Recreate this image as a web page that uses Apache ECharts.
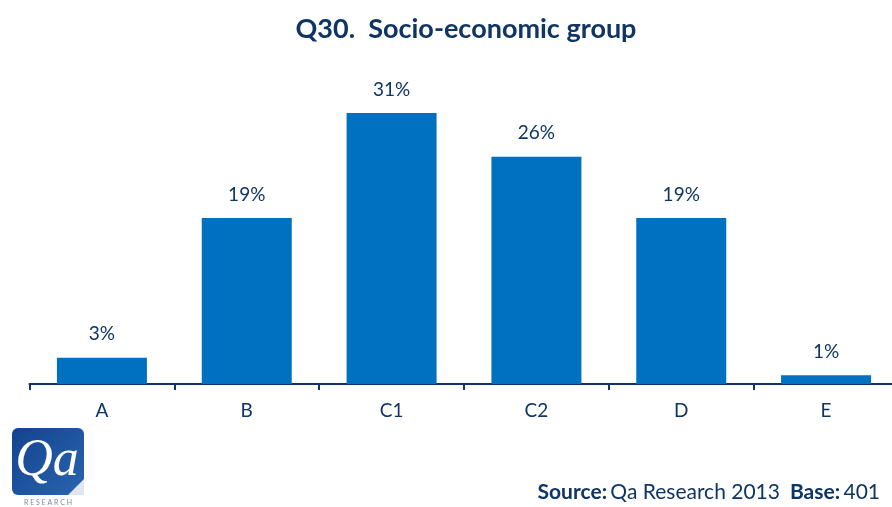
<!DOCTYPE html>
<html>
<head>
<meta charset="utf-8">
<script src="https://cdn.jsdelivr.net/npm/echarts@6/dist/echarts.min.js"></script>
<style>
  html, body { margin: 0; padding: 0; background: #ffffff; }
  #chart { width: 892px; height: 507px; }
</style>
</head>
<body>
<div id="chart"></div>
<script>
// Socio-economic group shares (percent of respondents)
const categories = ['A', 'B', 'C1', 'C2', 'D', 'E'];
const shares = [3, 19, 31, 26, 19, 1];

const navy = '#0f3466';
const barBlue = '#0070c0';
const fontFamily = 'Lato, "Open Sans", sans-serif';

const chart = echarts.init(document.getElementById('chart'));
chart.setOption({
  animation: false,
  backgroundColor: '#ffffff',
  title: {
    text: 'Q30.  Socio-economic group',
    left: 461,
    textAlign: 'center',
    top: 11,
    textStyle: { color: navy, fontSize: 27, fontWeight: 'bold', fontFamily }
  },
  grid: {
    left: 29.5, width: 869, top: 78, height: 306,
    containLabel: false,
    outerBoundsMode: 'none'
  },
  xAxis: {
    type: 'category',
    data: categories,
    axisLine: { lineStyle: { color: navy, width: 2 } },
    axisTick: { show: true, length: 6, lineStyle: { color: navy, width: 2 } },
    axisLabel: { color: navy, fontSize: 19, fontFamily, margin: 17 }
  },
  yAxis: {
    type: 'value',
    min: 0,
    max: 35,
    show: false,
    splitLine: { show: false }
  },
  series: [{
    type: 'bar',
    data: shares,
    barWidth: 90,
    itemStyle: { color: barBlue },
    label: {
      show: true,
      position: 'top',
      distance: 14,
      formatter: p => p.value + '%',
      color: navy,
      fontSize: 19,
      fontFamily
    }
  }],
  graphic: [
    // company mark
    {
      type: 'rect',
      shape: { x: 12, y: 428, width: 72, height: 67, r: 6 },
      style: {
        fill: new echarts.graphic.LinearGradient(0, 0, 1, 1, [
          { offset: 0, color: '#13438e' },
          { offset: 1, color: '#2a64b0' }
        ])
      }
    },
    {
      type: 'polygon',
      shape: { points: [[68, 495], [84, 479], [84, 495]] },
      style: { fill: '#dfe6f0' }
    },
    {
      type: 'text',
      style: {
        x: 47, y: 461, text: 'Qa', textAlign: 'center', textVerticalAlign: 'middle',
        fill: '#ffffff', fontSize: 52, fontStyle: 'italic', fontFamily: '"Liberation Serif", serif'
      }
    },
    {
      type: 'text',
      style: {
        x: 48, y: 503, text: 'R E S E A R C H', textAlign: 'center', textVerticalAlign: 'middle',
        fill: '#7a8aa6', fontSize: 7, fontFamily
      }
    },
    // source footnote
    {
      type: 'text',
      style: {
        x: 880, y: 492, textAlign: 'right', textVerticalAlign: 'middle',
        text: '{b|Source:} {r|Qa Research 2013}   {b|Base:} {r|401}',
        rich: {
          b: { fontWeight: 'bold', fontSize: 21, fill: navy, fontFamily },
          r: { fontSize: 21, fill: navy, fontFamily }
        }
      }
    }
  ]
});
</script>
</body>
</html>
